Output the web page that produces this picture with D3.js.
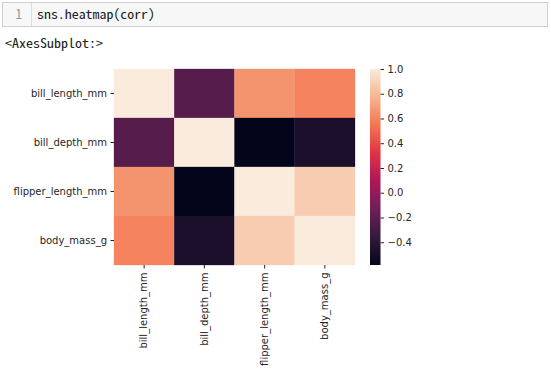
<!DOCTYPE html>
<html>
<head>
<meta charset="utf-8">
<script src="https://cdn.jsdelivr.net/npm/d3@7"></script>
<style>
  body { margin: 0; background: #fff; }
  svg text { font-family: "DejaVu Sans", sans-serif; }
</style>
</head>
<body>
<div id="chart"></div>
<script>
// correlation matrix of the penguin measurements
var columns = ["bill_length_mm", "bill_depth_mm", "flipper_length_mm", "body_mass_g"];
var corrRows = [
  [1.000, -0.235, 0.656, 0.595],
  [-0.235, 1.000, -0.584, -0.472],
  [0.656, -0.584, 1.000, 0.871],
  [0.595, -0.472, 0.871, 1.000]
];
var cbarTicks = [-0.4, -0.2, 0.0, 0.2, 0.4, 0.6, 0.8, 1.0];
var codeLine = "sns.heatmap(corr)";
var outLine = "<AxesSubplot:>";

// rocket colormap anchors
var rocket = ["#03051a", "#35193e", "#701f57", "#ad1759", "#e13342", "#f37651", "#f6b48f", "#faebdd"];

var width = 551, height = 377;

var svg = d3.select("#chart")
  .append("svg")
  .attr("width", width)
  .attr("height", height);

svg.append("rect").attr("width", width).attr("height", height).attr("fill", "#fff");

var monoFont = "'Noto Sans Mono CJK KR', 'Liberation Mono', monospace";

// notebook cell
var cell = svg.append("g");
cell.append("rect")
  .attr("x", 2.5).attr("y", 2.5)
  .attr("width", 545).attr("height", 24)
  .attr("fill", "#f7f7f7")
  .attr("stroke", "#cfcfcf");
cell.append("line")
  .attr("x1", 31.5).attr("x2", 31.5)
  .attr("y1", 3).attr("y2", 26)
  .attr("stroke", "#dddddd");
cell.append("text")
  .attr("x", 22).attr("y", 19)
  .attr("text-anchor", "end")
  .attr("fill", "#999")
  .style("font-family", monoFont)
  .style("font-size", "13px")
  .text("1");
cell.append("text")
  .attr("x", 37).attr("y", 19)
  .attr("fill", "#222")
  .attr("textLength", 118)
  .attr("lengthAdjust", "spacingAndGlyphs")
  .style("font-family", monoFont)
  .style("font-size", "13px")
  .text(codeLine);
svg.append("text")
  .attr("x", 5).attr("y", 48)
  .attr("fill", "#222")
  .attr("textLength", 98)
  .attr("lengthAdjust", "spacingAndGlyphs")
  .style("font-family", monoFont)
  .style("font-size", "13px")
  .text(outLine);

// heatmap
var plotLeft = 114, plotRight = 355, plotTop = 69, plotBottom = 265;

var x = d3.scaleBand().domain(columns).range([plotLeft, plotRight]);
var y = d3.scaleBand().domain(columns).range([plotTop, plotBottom]);

var flat = [];
corrRows.forEach(function(row, i) {
  row.forEach(function(v, j) {
    flat.push({ row: columns[i], col: columns[j], value: v });
  });
});

var vmin = d3.min(flat, function(d) { return d.value; });
var vmax = d3.max(flat, function(d) { return d.value; });

var color = d3.scaleLinear()
  .domain(rocket.map(function(c, i) { return vmin + (vmax - vmin) * i / (rocket.length - 1); }))
  .range(rocket)
  .interpolate(d3.interpolateRgb)
  .clamp(true);

svg.append("g")
  .selectAll("rect")
  .data(flat)
  .enter()
  .append("rect")
  .attr("x", function(d) { return x(d.col); })
  .attr("y", function(d) { return y(d.row); })
  .attr("width", x.bandwidth())
  .attr("height", y.bandwidth())
  .attr("fill", function(d) { return color(d.value); })
  .attr("stroke", function(d) { return color(d.value); })
  .attr("stroke-width", 0.3);

var tickColor = "#262626";

var yAxis = svg.append("g")
  .attr("transform", "translate(" + plotLeft + ",0)")
  .call(d3.axisLeft(y).tickSize(3.5).tickPadding(3.5));
yAxis.select(".domain").remove();

var xAxis = svg.append("g")
  .attr("transform", "translate(0," + plotBottom + ")")
  .call(d3.axisBottom(x).tickSize(3.5).tickPadding(3.5));
xAxis.select(".domain").remove();
xAxis.selectAll("text")
  .attr("transform", "rotate(-90)")
  .attr("x", -7.5)
  .attr("y", 0)
  .attr("dy", "0.32em")
  .attr("text-anchor", "end");

// colorbar
var cbLeft = 370, cbWidth = 10.5;
var cbScale = d3.scaleLinear().domain([vmin, vmax]).range([plotBottom, plotTop]);

var defs = svg.append("defs");
var grad = defs.append("linearGradient")
  .attr("id", "cbgrad")
  .attr("x1", 0).attr("y1", 1).attr("x2", 0).attr("y2", 0);
grad.selectAll("stop")
  .data(rocket)
  .enter()
  .append("stop")
  .attr("offset", function(d, i) { return i / (rocket.length - 1); })
  .attr("stop-color", function(d) { return d; });

svg.append("rect")
  .attr("x", cbLeft).attr("y", plotTop)
  .attr("width", cbWidth).attr("height", plotBottom - plotTop)
  .attr("fill", "url(#cbgrad)");

var cbAxis = svg.append("g")
  .attr("transform", "translate(" + (cbLeft + cbWidth) + ",0)")
  .call(d3.axisRight(cbScale)
    .tickValues(cbarTicks)
    .tickSize(3.5)
    .tickPadding(3.5)
    .tickFormat(function(d) { return d3.format(".1f")(d).replace("-", "\u2212"); }));
cbAxis.select(".domain").remove();

svg.selectAll(".tick line").attr("stroke", tickColor);
svg.selectAll(".tick text")
  .attr("fill", tickColor)
  .style("font-family", "'DejaVu Sans', sans-serif")
  .style("font-size", "10px");
</script>
</body>
</html>
